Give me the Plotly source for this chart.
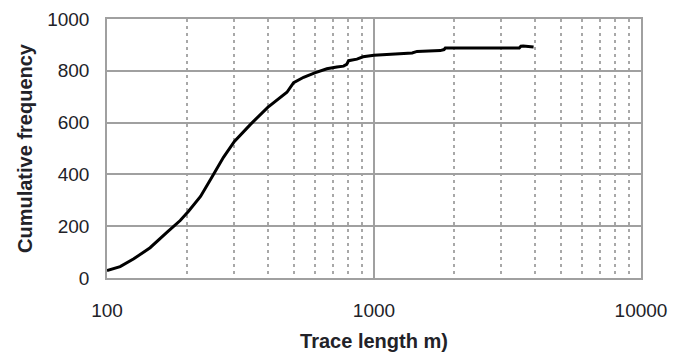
import plotly.graph_objects as go

# Data
trace_length = [100, 112, 126, 145, 168, 188, 202, 224, 247, 273, 300, 344, 400,
                446, 472, 500, 545, 600, 666, 726, 769, 790, 803, 863, 910, 1000,
                1100, 1290, 1390, 1450, 1770, 1830, 1850, 3500, 3550, 3620, 3960]
cum_freq = [29, 44, 74, 117, 177, 222, 258, 315, 389, 466, 527, 592, 659,
            695, 717, 754, 775, 792, 808, 815, 818, 825, 839, 845, 854, 860,
            862, 867, 869, 875, 878, 882, 888, 888, 895, 896, 892]

x_tick_vals = [100, 1000, 10000]
y_tick_vals = [0, 200, 400, 600, 800, 1000]

FONT = "Liberation Sans, Arial, sans-serif"
TXT = "#222228"
GRID = "#a0a0a0"

fig = go.Figure()
fig.add_trace(go.Scatter(
    x=trace_length, y=cum_freq, mode="lines",
    line=dict(color="black", width=3),
    showlegend=False,
))

fig.update_layout(
    width=676, height=356,
    margin=dict(l=107, r=35, t=19, b=78),
    paper_bgcolor="white", plot_bgcolor="white",
    font=dict(family=FONT, color=TXT, size=19),
    xaxis=dict(
        type="log", range=[2, 4], automargin=False,
        tickmode="array", tickvals=x_tick_vals,
        ticktext=[str(v) for v in x_tick_vals],
        ticks="", ticklabelstandoff=14,
        showgrid=True, gridcolor=GRID, gridwidth=1.5,
        minor=dict(dtick="D1", showgrid=True, gridcolor="#a8a8a8",
                   griddash="3px,4px", gridwidth=1.5),
        showline=True, mirror=True, linecolor=GRID, linewidth=1.5,
        zeroline=False,
        title=dict(text="<b>Trace length m)</b>", standoff=14,
                   font=dict(size=20, family=FONT, color=TXT)),
    ),
    yaxis=dict(
        range=[0, 1000], automargin=False,
        tickmode="array", tickvals=y_tick_vals,
        ticks="", ticklabelstandoff=12,
        showgrid=True, gridcolor=GRID, gridwidth=1.5,
        showline=True, mirror=True, linecolor=GRID, linewidth=1.5,
        zeroline=False,
        title=dict(text="<b>Cumulative frequency</b>", standoff=9,
                   font=dict(size=20, family=FONT, color=TXT)),
    ),
)

fig.write_html("out.html")
